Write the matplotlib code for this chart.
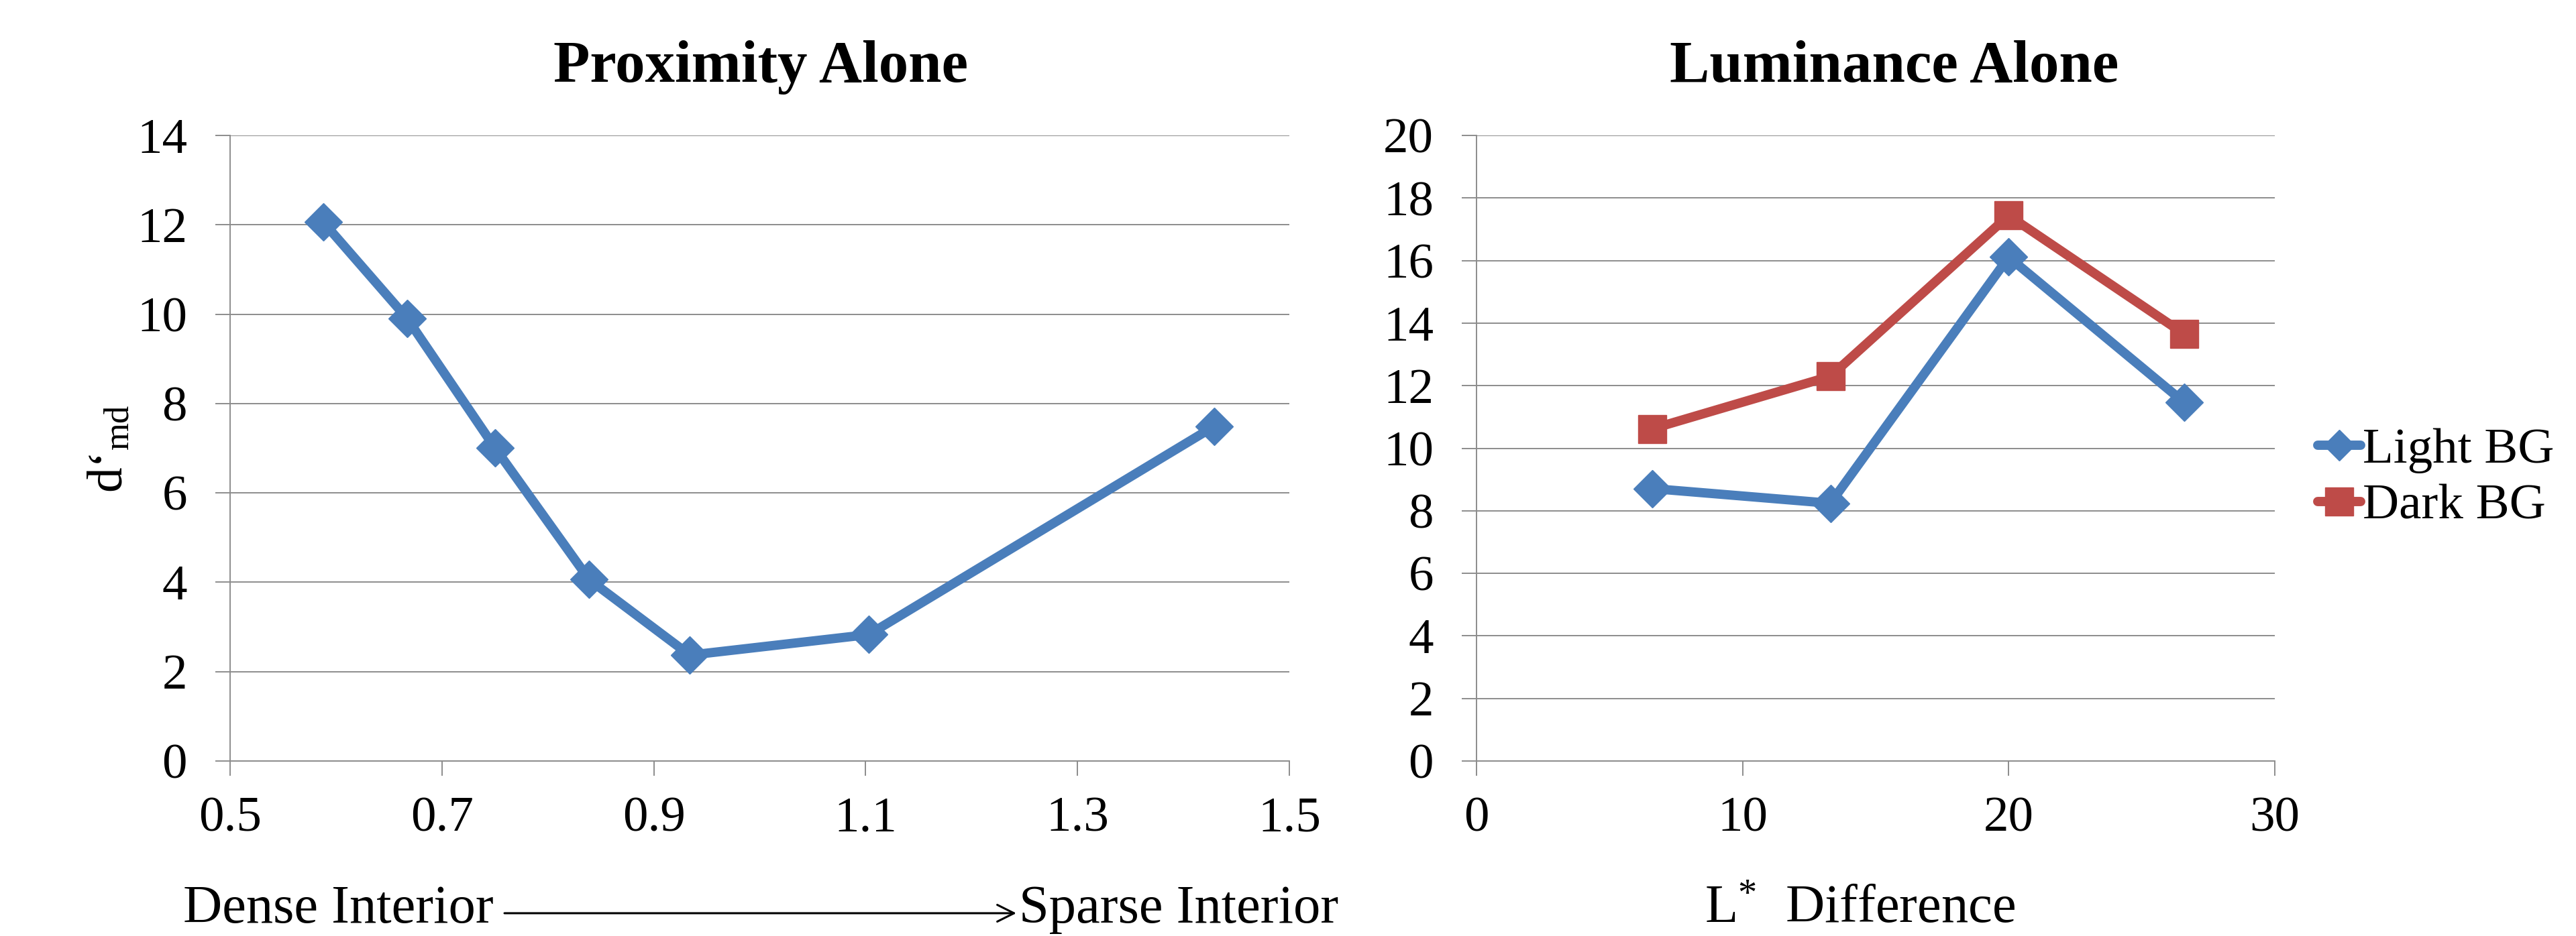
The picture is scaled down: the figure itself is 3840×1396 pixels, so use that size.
import matplotlib
matplotlib.use("Agg")
import matplotlib.pyplot as plt
from matplotlib.lines import Line2D

plt.rcParams["font.family"] = ["Liberation Serif", "DejaVu Serif"]
plt.rcParams["mathtext.fontset"] = "custom"
plt.rcParams["mathtext.rm"] = "Liberation Serif"
plt.rcParams["mathtext.it"] = "Liberation Serif:italic"

# Proximity alone: interior density vs d'
prox_x = [0.588, 0.667, 0.750, 0.839, 0.934, 1.103, 1.429]
prox_d = [12.06, 9.91, 7.01, 4.06, 2.37, 2.83, 7.49]

# Luminance alone: L* difference vs d' on two backgrounds
lum_x = [6.6, 13.3, 20.0, 26.6]
light_bg = [8.71, 8.24, 16.11, 11.46]
dark_bg = [10.62, 12.30, 17.44, 13.65]

prox_xticks = [0.5, 0.7, 0.9, 1.1, 1.3, 1.5]
prox_yticks = [0, 2, 4, 6, 8, 10, 12, 14]
lum_xticks = [0, 10, 20, 30]
lum_yticks = [0, 2, 4, 6, 8, 10, 12, 14, 16, 18, 20]

BLUE = "#4A7EBB"
RED = "#BE4B48"
GRID = "#8C8C8C"

W, H = 3841, 1396
fig = plt.figure(figsize=(W / 100, H / 100), dpi=100)
fig.patch.set_facecolor("white")

TICK_FS = 54
LABEL_FS = 58
TITLE_FS = 64
LW = 10


def style_axes(ax, xticks, yticks, xfmt):
    ax.set_xlim(xticks[0], xticks[-1])
    ax.set_ylim(yticks[0], yticks[-1])
    ax.set_xticks(xticks)
    ax.set_yticks(yticks)
    ax.set_xticklabels([xfmt(v) for v in xticks])
    ax.set_yticklabels([str(v) for v in yticks])
    ax.yaxis.grid(True, color=GRID, lw=1.4, zorder=0)
    ax.xaxis.grid(False)
    ax.set_axisbelow(True)
    for s in ("top", "right"):
        ax.spines[s].set_visible(False)
    for s in ("left", "bottom"):
        ax.spines[s].set_color(GRID)
        ax.spines[s].set_linewidth(1.4)
    ax.tick_params(axis="both", direction="out", length=16, width=1.4,
                   color=GRID, labelsize=TICK_FS, labelcolor="black")
    ax.tick_params(axis="y", pad=30)
    ax.tick_params(axis="x", pad=22)


ax1 = fig.add_axes([343 / W, 1 - 1135 / H, 1579 / W, 933 / H])
style_axes(ax1, prox_xticks, prox_yticks, lambda v: f"{v:.1f}")
ax1.plot(prox_x, prox_d, color=BLUE, lw=LW, marker="D", ms=29,
         mfc=BLUE, mec=BLUE, zorder=3, clip_on=False)

ax2 = fig.add_axes([2201 / W, 1 - 1135 / H, 1190 / W, 933 / H])
style_axes(ax2, lum_xticks, lum_yticks, lambda v: f"{v:d}")
ax2.plot(lum_x, dark_bg, color=RED, lw=LW, marker="s", ms=30,
         mfc=RED, mec=RED, zorder=3, clip_on=False)
ax2.plot(lum_x, light_bg, color=BLUE, lw=LW, marker="D", ms=29,
         mfc=BLUE, mec=BLUE, zorder=4, clip_on=False)

# titles
fig.text(1134 / W, 1 - 122 / H, "Proximity Alone", ha="center", va="baseline",
         fontsize=TITLE_FS, fontweight="bold")
fig.text(2824 / W, 1 - 122 / H, "Luminance Alone", ha="center", va="baseline",
         fontsize=TITLE_FS, fontweight="bold")

# y label
fig.text(165 / W, 1 - 669 / H, "d\u2018$_{\\mathrm{md}}$", rotation=90,
         ha="center", va="center", fontsize=TICK_FS)

# x labels
base_y = 1 - 1376 / H
fig.text(273 / W, base_y, "Dense Interior", ha="left", va="baseline",
         fontsize=LABEL_FS)
fig.text(1519 / W, base_y, "Sparse Interior", ha="left", va="baseline",
         fontsize=LABEL_FS)
arrow_y = 1 - 1362 / H
fig.add_artist(matplotlib.patches.FancyArrowPatch(
    (752 / W, arrow_y), (1515 / W, arrow_y), transform=fig.transFigure,
    arrowstyle="->,head_length=0.9,head_width=0.45", mutation_scale=20,
    lw=2.2, color="black", shrinkA=0, shrinkB=0))
fig.text(2773 / W, base_y, "L$^{*}$  Difference", ha="center", va="baseline",
         fontsize=LABEL_FS)

# legend
handles = [
    Line2D([], [], color=BLUE, lw=LW, marker="D", ms=23, mfc=BLUE, mec=BLUE,
           solid_capstyle="round"),
    Line2D([], [], color=RED, lw=LW, marker="s", ms=30, mfc=RED, mec=RED,
           solid_capstyle="round"),
]
fig.legend(handles, ["Light BG", "Dark BG"], loc="center left",
           bbox_to_anchor=(3455 / W, 1 - 714 / H), frameon=False,
           fontsize=TICK_FS, handlelength=0.85, handletextpad=0.05,
           labelspacing=0.2, borderpad=0, borderaxespad=0)

fig.savefig("out.png", dpi=100, facecolor="white")
